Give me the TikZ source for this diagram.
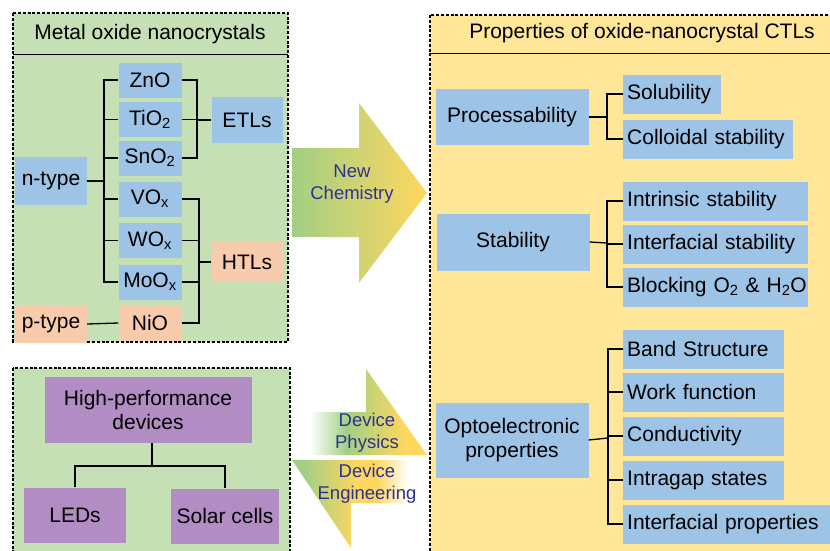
\documentclass[tikz,border=0pt]{standalone}
\usepackage{fontspec}
\setmainfont{Liberation Sans}
\definecolor{panelgreen}{HTML}{C5E0B4}
\definecolor{panelyellow}{HTML}{FFE699}
\definecolor{boxblue}{HTML}{9DC3E6}
\definecolor{boxpeach}{HTML}{F8CBAD}
\definecolor{boxpurple}{HTML}{B28DC4}
\definecolor{arrowgreen}{HTML}{A2CF84}
\definecolor{arrowyellow}{HTML}{FFD75F}
\definecolor{arrowtext}{HTML}{2E3192}
\pgfdeclarehorizontalshading{chemfade}{100bp}{color(0bp)=(arrowgreen); color(25bp)=(arrowgreen); color(75bp)=(arrowyellow); color(100bp)=(arrowyellow)}
\pgfdeclarehorizontalshading{physfade}{100bp}{color(0bp)=(white); color(27bp)=(white); color(42bp)=(arrowgreen); color(66bp)=(arrowyellow); color(100bp)=(arrowyellow)}
\pgfdeclarehorizontalshading{engfade}{100bp}{color(0bp)=(arrowgreen); color(30bp)=(arrowgreen); color(52bp)=(arrowyellow); color(60bp)=(arrowyellow); color(73bp)=(white); color(100bp)=(white)}

\begin{document}
\begin{tikzpicture}[x=1pt,y=-1pt,
	font=\fontsize{21}{24}\selectfont,
	panel/.style={draw=black,line width=1.2pt,dash pattern=on 3pt off 1.8pt},
	bluebox/.style={fill=boxblue,inner sep=3pt},
	peachbox/.style={fill=boxpeach,inner sep=3pt},
	purplebox/.style={fill=boxpurple,inner sep=3pt,align=center},
	oxide/.style={bluebox,minimum width=63pt,minimum height=35pt},
	prop/.style={bluebox,minimum width=153pt,align=center},
	kid/.style={bluebox,anchor=west,minimum height=39pt,inner xsep=4pt,text width=#1,align=left},
	link/.style={line width=1.3pt},
	flow/.style={text=arrowtext,font=\fontsize{18.5}{22}\selectfont,align=center}]

		% Page frame
		\clip (0,0) rectangle (830,550);
		
		% Draw the panels
		\draw[panel,fill=panelgreen] (13,13) rectangle (288,342);
		\draw[line width=1pt] (13,54) -- (288,54);
		\draw[panel,fill=panelgreen] (13,368) rectangle (290,552);
		\draw[panel,fill=panelyellow] (430,15) rectangle (860,552);
		\draw[line width=1pt] (430,53) -- (860,53);
		\node (oxhead) at (150,34) {Metal oxide nanocrystals};
		\node (prophead) at (642,33) {Properties of oxide-nanocrystal CTLs};
		
		% Oxides
		\foreach \name/\y/\txt in {zno/80/ZnO, tio/119.5/TiO\textsubscript{2}, sno/158/SnO\textsubscript{2}, vo/199/VO\textsubscript{x}, wo/240.5/WO\textsubscript{x}, moo/282/MoO\textsubscript{x}}
		\node[oxide] (\name) at (150,\y) {\txt};
		\node[oxide,fill=boxpeach] (nio) at (150,323) {NiO};
		\node[bluebox,minimum width=72pt,minimum height=48pt] (ntype) at (51,181) {n-type};
		\node[peachbox,minimum width=72pt,minimum height=38pt] (ptype) at (51,324) {p-type};
		\node[bluebox,minimum width=71pt,minimum height=46pt] (etl) at (247,120) {ETLs};
		\node[peachbox,minimum width=71pt,minimum height=40pt] (htl) at (247,262) {HTLs};
		
		% Oxide links
		\coordinate (nbus) at (104,181);
		\coordinate (ebus) at (197,120);
		\coordinate (hbus) at (199,262);
		\draw[link] (ntype.east) -- (nbus);
		\foreach \n in {zno,tio,sno,vo,wo,moo}
		\draw[link] (\n.west) -| (nbus);
		\foreach \n in {zno,tio,sno}
		\draw[link] (\n.east) -| (ebus);
		\draw[link] (ebus) -- (etl.west);
		\foreach \n in {vo,wo,moo,nio}
		\draw[link] (\n.east) -| (hbus);
		\draw[link] (hbus) -- (htl.west);
		\draw[link] (ptype.east) -- (nio.west);
		
		% Devices
		\node[purplebox,minimum width=207pt,minimum height=66pt] (hpd) at (148,410) {High-performance\\devices};
		\node[purplebox,minimum width=102pt,minimum height=55pt] (leds) at (75,515) {LEDs};
		\node[purplebox,minimum width=108pt,minimum height=55pt] (solar) at (225,516) {Solar cells};
		\coordinate (fork) at (152,466);
		\draw[link] (leds.north) |- (fork) -| (solar.north);
		\draw[link] (hpd.south -| fork) -- (fork);
		
		% Middle arrows
		\shade[shading=chemfade] (292,148) -- (359,148) -- (359,103) -- (427,193) -- (359,283) -- (359,237) -- (292,237) -- cycle;
		\node[flow] (chem) at (352,184) {New\\Chemistry};
		\shade[shading=physfade] (305,412) -- (366,412) -- (366,369) -- (427,455) -- (305,455) -- cycle;
		\node[flow] (phys) at (367,433) {Device\\Physics};
		\shade[shading=engfade] (292,460) -- (413,460) -- (413,503) -- (351,503) -- (351,548) -- cycle;
		\node[flow] (eng) at (367,484) {Device\\Engineering};
		
		% Properties
		\node[prop,minimum height=56pt] (proc) at (512,117) {Processability};
		\node[prop,minimum height=57pt] (stab) at (513,242) {Stability};
		\node[prop,minimum height=75pt] (opto) at (512,440) {Optoelectronic\\properties};
		\node[kid=90pt] (sol) at (623,94) {Solubility};
		\node[kid=162pt] (coll) at (623,139) {Colloidal stability};
		\node[kid=177pt] (intr) at (623,201) {Intrinsic stability};
		\node[kid=177pt] (intf) at (623,244) {Interfacial stability};
		\node[kid=177pt] (block) at (623,287) {\mbox{Blocking O\textsubscript{2} \& H\textsubscript{2}O}};
		\node[kid=153pt] (band) at (623,349) {Band Structure};
		\node[kid=153pt] (work) at (623,392) {Work function};
		\node[kid=153pt] (cond) at (623,436) {Conductivity};
		\node[kid=153pt] (gap) at (623,480) {Intragap states};
		\node[kid=212pt] (intp) at (623,524) {Interfacial properties};
		
		% Property links
		\coordinate (pbus) at (607,117);
		\coordinate (sbus) at (607,243);
		\coordinate (obus) at (608,438);
		\draw[link] (proc.east) -- (pbus);
		\foreach \n in {sol,coll}
		\draw[link] (\n.west) -| (pbus);
		\draw[link] (stab.east) -- (sbus);
		\foreach \n in {intr,intf,block}
		\draw[link] (\n.west) -| (sbus);
		\draw[link] (opto.east) -- (obus);
		\foreach \n in {band,work,cond,gap,intp}
		\draw[link] (\n.west) -| (obus);
	\end{tikzpicture}
\end{document}
